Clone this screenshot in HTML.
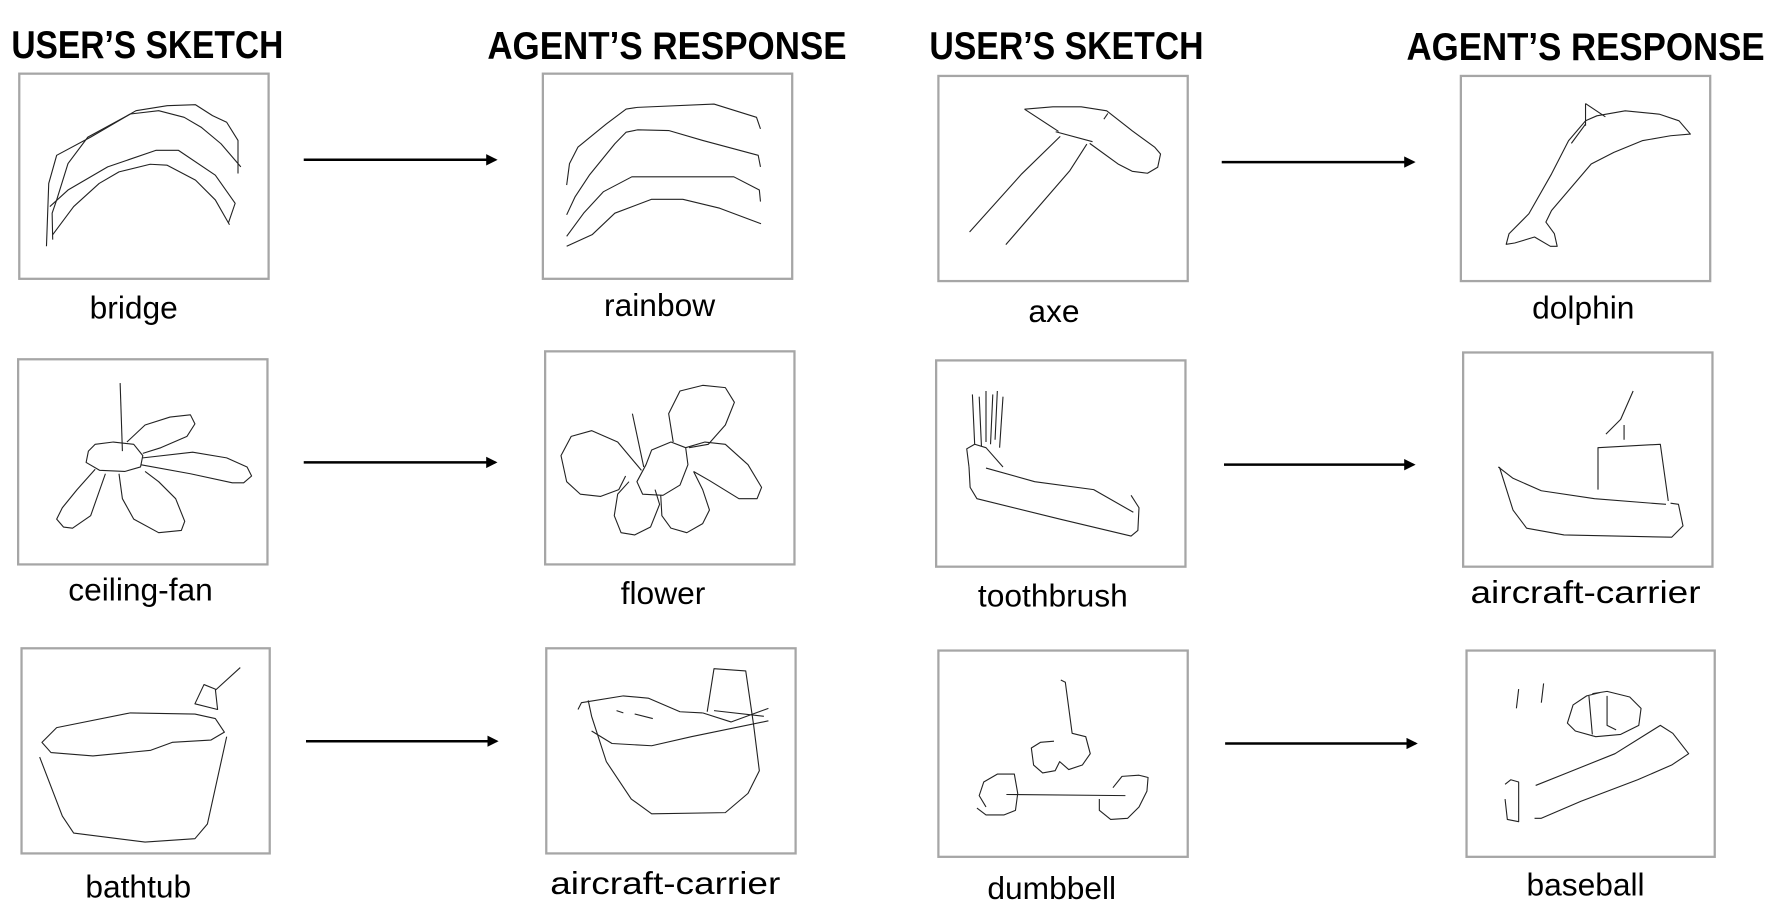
<!DOCTYPE html>
<html><head><meta charset="utf-8"><style>
html,body{margin:0;padding:0;background:#fff;}
svg{display:block;}
.h{font-family:"Liberation Sans",sans-serif;font-weight:bold;font-size:34px;fill:#000;}
.l{font-family:"Liberation Sans",sans-serif;font-size:28px;fill:#000;}
.b{fill:none;stroke:#a6a6a6;stroke-width:2;}
.s{fill:none;stroke:#222;stroke-width:1.1;stroke-linejoin:round;}
.s path{vector-effect:non-scaling-stroke;}
.a{stroke:#000;stroke-width:2.2;}
</style></head><body>
<svg width="1768" height="922" viewBox="0 0 1560 813.5" preserveAspectRatio="none" xmlns="http://www.w3.org/2000/svg">
<defs><marker id="ar" markerWidth="10" markerHeight="10" refX="8" refY="5" orient="auto" markerUnits="userSpaceOnUse"><path d="M0,0 L10,5 L0,10z" fill="#000"/></marker></defs>
<text class="h" x="10" y="51" textLength="240" lengthAdjust="spacingAndGlyphs">USER’S SKETCH</text>
<text class="h" x="430" y="52" textLength="317" lengthAdjust="spacingAndGlyphs">AGENT’S RESPONSE</text>
<text class="h" x="820" y="52" textLength="242" lengthAdjust="spacingAndGlyphs">USER’S SKETCH</text>
<text class="h" x="1241" y="53" textLength="316" lengthAdjust="spacingAndGlyphs">AGENT’S RESPONSE</text>
<rect class="b" x="17" y="65" width="220" height="181"/>
<rect class="b" x="479" y="65" width="220" height="181"/>
<rect class="b" x="828" y="67" width="220" height="181"/>
<rect class="b" x="1289" y="67" width="220" height="181"/>
<rect class="b" x="16" y="317" width="220" height="181"/>
<rect class="b" x="481" y="310" width="220" height="188"/>
<rect class="b" x="826" y="318" width="220" height="182"/>
<rect class="b" x="1291" y="311" width="220" height="189"/>
<rect class="b" x="19" y="572" width="219" height="181"/>
<rect class="b" x="482" y="572" width="220" height="181"/>
<rect class="b" x="828" y="574" width="220" height="182"/>
<rect class="b" x="1294" y="574" width="219" height="182"/>
<line class="a" x1="268" y1="141" x2="437" y2="141" marker-end="url(#ar)"/>
<line class="a" x1="1078" y1="143" x2="1247" y2="143" marker-end="url(#ar)"/>
<line class="a" x1="268" y1="408" x2="437" y2="408" marker-end="url(#ar)"/>
<line class="a" x1="1080" y1="410" x2="1247" y2="410" marker-end="url(#ar)"/>
<line class="a" x1="270" y1="654" x2="438" y2="654" marker-end="url(#ar)"/>
<line class="a" x1="1081" y1="656" x2="1249" y2="656" marker-end="url(#ar)"/>
<g text-anchor="middle">
<text class="l" x="118" y="281">bridge</text>
<text class="l" x="582" y="279">rainbow</text>
<text class="l" x="930" y="284">axe</text>
<text class="l" x="1397" y="281">dolphin</text>
<text class="l" x="124" y="530">ceiling-fan</text>
<text class="l" x="585" y="533">flower</text>
<text class="l" x="929" y="535">toothbrush</text>
<text class="l" x="1399" y="532" textLength="203" lengthAdjust="spacingAndGlyphs">aircraft-carrier</text>
<text class="l" x="122" y="792">bathtub</text>
<text class="l" x="587" y="789" textLength="203" lengthAdjust="spacingAndGlyphs">aircraft-carrier</text>
<text class="l" x="928" y="793">dumbbell</text>
<text class="l" x="1399" y="790">baseball</text>
</g>
<g class="s" transform="matrix(0.5,0,0,0.2917,0,1.4)">
<path d="M82,740 L86,550 L100,465 L160,410 L240,330 L295,315 L345,312 L375,345 L400,365 L420,420 L420,520"/>
<path d="M93,720 L92,640 L100,600 L120,490 L155,410 L230,340 L280,330 L325,350 L355,380 L390,430 L425,500"/>
<path d="M88,620 L120,570 L190,500 L275,450 L315,450 L380,525 L415,610 L403,670"/>
<path d="M93,705 L130,620 L175,550 L210,515 L265,492 L295,495 L345,540 L380,600 L405,675"/>
<path d="M1000,555 L1005,490 L1020,440 L1070,370 L1105,325 L1125,320 L1260,310 L1335,350 L1342,385"/>
<path d="M1000,645 L1015,590 L1040,525 L1085,430 L1105,395 L1125,388 L1180,390 L1240,420 L1338,465 L1342,500"/>
<path d="M1000,710 L1030,640 L1065,575 L1115,530 L1295,530 L1340,570 L1342,605"/>
<path d="M1000,740 L1045,705 L1085,640 L1150,598 L1205,598 L1270,625 L1343,672"/>
</g>
<g class="s" transform="matrix(0.5,0,0,0.293,784,1.1)">
<path d="M240,325 L290,318 L340,318 L385,330 L430,390 L470,440 L480,460 L475,500 L457,518 L430,512 L405,490 L355,428"/>
<path d="M240,325 L300,392"/><path d="M295,393 L360,423"/><path d="M380,355 L387,338"/>
<path d="M303,407 L235,520 L143,695"/><path d="M350,430 L320,510 L207,733"/>
<path d="M1090,732 L1095,700 L1130,640 L1170,520 L1200,420 L1230,360 L1250,345 L1300,330 L1360,340 L1395,360 L1415,400 L1380,405 L1330,420 L1280,455 L1240,490 L1205,560 L1170,630 L1160,665 L1175,700 L1180,738 L1168,738 L1140,710 L1105,728 Z"/>
<path d="M1230,308 L1230,375 M1230,308 L1265,348 M1230,370 L1205,428"/>
</g>
<g class="s">
<path d="M106,338 L108,398"/>
<path d="M78,398 L84,392 L100,390 L118,392 L126,402 L124,412 L110,416 L88,415 L76,408 Z"/>
<path d="M112,390 L128,375 L150,368 L168,366 L172,374 L165,385 L142,395 L126,400"/>
<path d="M126,404 L170,399 L200,404 L218,412 L222,420 L215,426 L205,426 L168,418 L124,410"/>
<path d="M84,414 L68,432 L55,448 L50,458 L56,465 L64,466 L80,455 L93,418"/>
<path d="M105,418 L108,440 L118,458 L140,470 L160,468 L163,460 L155,440 L140,425 L128,416"/>
<path d="M570,410 L575,397 L592,390 L605,395 L607,410 L600,428 L585,437 L567,436 L562,425 Z"/>
<path d="M566,415 L545,390 L522,380 L504,385 L495,402 L500,425 L512,436 L530,438 L546,432 L552,420"/>
<path d="M594,390 L590,365 L600,345 L620,340 L640,342 L648,355 L640,375 L625,392 L608,395"/>
<path d="M605,395 L622,390 L640,392 L660,410 L672,430 L668,440 L652,440 L626,424 L612,416"/>
<path d="M555,425 L545,436 L542,455 L548,470 L560,472 L574,465 L582,445 L578,432"/>
<path d="M583,437 L584,455 L592,466 L606,470 L620,462 L626,450 L620,432 L612,416"/>
<path d="M558,365 L568,412"/>
<path d="M858,348 L860,392 M864,350 L866,394 M870,345 L870,390 M876,348 L874,392 M880,345 L878,388 M885,350 L882,395"/>
<path d="M855,412 L853,396 L860,392 L870,395 L885,412"/>
<path d="M855,412 L856,430 L862,440 L935,458 L998,473 L1004,468 L1005,448 L998,437"/>
<path d="M870,413 L913,425 L965,432 L1000,452"/>
<path d="M1441,345 L1430,370 L1417,383 M1433,375 L1433,388"/>
<path d="M1410,432 L1410,395 L1465,392 L1472,442"/>
<path d="M1322,412 L1335,422 L1360,433 L1407,440 L1470,445"/>
<path d="M1323,412 L1335,450 L1347,466 L1380,472 L1475,474 L1485,464 L1481,445 L1474,444"/>
<path d="M37,655 L50,642 L115,629 L172,630 L190,634 L198,646 L186,653 L152,655 L133,662 L82,667 L45,664 Z"/>
<path d="M35,668 L55,720 L65,735 L128,743 L172,740 L183,727 L200,650"/>
<path d="M212,589 L190,609 M180,604 L172,621 L192,626 L190,608 Z"/>
<path d="M624,628 L630,590 L658,592 L665,640 L670,680 L660,700 L640,717 L575,718 L557,705 L535,672 L522,632 L519,618"/>
<path d="M510,626 L513,620 L550,614 L572,616 L600,628 L620,629"/>
<path d="M620,629 L645,637 L678,625 M630,627 L674,632"/>
<path d="M522,645 L540,656 L575,658 L610,650 L678,636"/>
<path d="M544,627 L550,629 M560,630 L576,634"/>
<path d="M936,600 L940,602 L946,647 L958,650 L962,665 L955,675 L943,679 L935,672 L931,680 L920,682 L912,675 L910,660 L918,655 L930,654"/>
<path d="M870,712 L864,702 L868,690 L880,683 L895,683 L898,700 L896,715 L886,719 L870,719 L862,713"/>
<path d="M888,701 L993,702"/>
<path d="M970,705 L970,715 L980,723 L995,722 L1005,712 L1012,698 L1013,686 L1005,684 L990,685 L982,695"/>
<path d="M1405,612 L1418,610 L1438,615 L1448,625 L1446,640 L1430,648 L1408,650 L1390,645 L1383,638 L1388,622 L1400,614 L1412,611"/>
<path d="M1402,614 L1405,648 M1418,614 L1418,640 L1426,644"/>
<path d="M1340,608 L1338,625 M1362,603 L1360,620"/>
<path d="M1355,693 L1380,683 L1425,665 L1465,640 L1476,647 L1490,665 L1475,675 L1445,688 L1395,707 L1360,722 L1354,722"/>
<path d="M1328,692 L1333,688 L1340,690 L1340,725 L1330,723 L1328,705"/>
</g>
</svg>
</body></html>
